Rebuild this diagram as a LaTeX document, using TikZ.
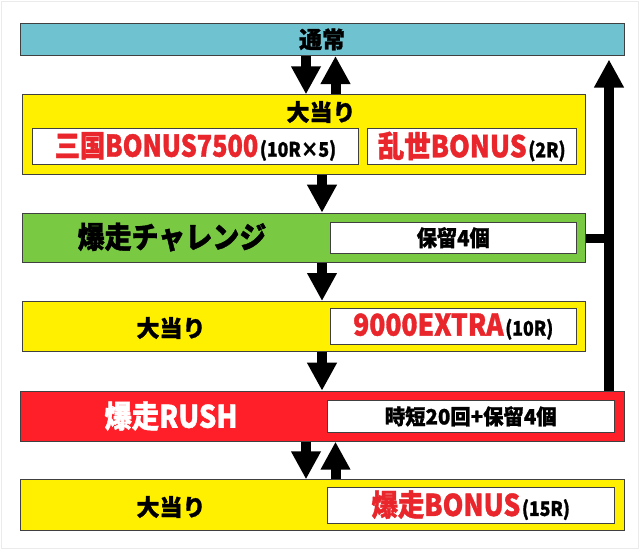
\documentclass[tikz,border=0pt]{standalone}
\usepackage{fontspec}
\setmainfont{Noto Sans CJK JP}[BoldFeatures={FakeBold=1.3}]
\usetikzlibrary{arrows.meta}
\definecolor{cyanbox}{HTML}{6FC3D0}
\definecolor{yel}{HTML}{FFF000}
\definecolor{grn}{HTML}{7AC943}
\definecolor{redbox}{HTML}{FF1F28}
\definecolor{redtxt}{HTML}{E8262B}
\definecolor{edge}{HTML}{404040}
\definecolor{frame}{HTML}{EBEBEB}
\newcommand\fs[1]{\fontsize{#1}{#1}\selectfont}
\newcommand\cnd[2][0.88]{\scalebox{#1}[1]{#2}}
\tikzset{
  panel/.style={draw=edge, line width=1pt, inner sep=0pt, anchor=north west, font=\bfseries},
  whitebox/.style={panel, fill=white},
  lbl/.style={inner sep=0pt, font=\bfseries},
  flow/.style={line width=10pt, -{Triangle[width=28pt,length=28pt]}},
}
\begin{document}
\begin{tikzpicture}[x=1pt,y=-1pt]
\useasboundingbox (0,0) rectangle (640,550);
\draw[frame, line width=1pt] (1.5,1.5) rectangle (638.5,548.5);
% boxes
\node[panel, fill=cyanbox, minimum width=604pt, minimum height=32.3pt] (tsujo) at (19.6,22.7)
  {\cnd[1]{\fs{23}通常}};
\node[panel, fill=yel, minimum width=563.4pt, minimum height=79.7pt] (oa1) at (21.6,94.3) {};
\node[whitebox, minimum width=326pt, minimum height=36pt] (b1) at (32,128)
  {\cnd[0.84]{\color{redtxt}\fs{30}三国BONUS7500}\,\cnd{\fs{20}(10R×5)}};
\node[whitebox, minimum width=208.5pt, minimum height=36pt] (b2) at (367,128)
  {\cnd{\color{redtxt}\fs{30}乱世BONUS}\,\cnd{\fs{20}(2R)}};
\node[panel, fill=grn, minimum width=563.4pt, minimum height=49.6pt] (chal) at (21.6,212.7) {};
\node[whitebox, minimum width=245.5pt, minimum height=31pt] (hb) at (330,221.7)
  {\cnd[0.92]{\fs{22}保留4個}};
\node[panel, fill=yel, minimum width=563.4pt, minimum height=50pt] (oa2) at (21.6,301) {};
\node[whitebox, minimum width=245.5pt, minimum height=36pt] (eb) at (330,308)
  {\cnd{\color{redtxt}\fs{30}9000EXTRA}\,\cnd{\fs{20}(10R)}};
\node[panel, fill=redbox, minimum width=604pt, minimum height=50pt] (rush) at (19.6,390.7) {};
\node[whitebox, minimum width=287.5pt, minimum height=31.7pt] (rb) at (326.5,400)
  {\cnd[0.97]{\fs{21}時短20回+保留4個}};
\node[panel, fill=yel, minimum width=604pt, minimum height=50.7pt] (oa3) at (19.6,479.3) {};
\node[whitebox, minimum width=287.5pt, minimum height=36pt] (bb) at (326.5,486.7)
  {\cnd{\color{redtxt}\fs{30}爆走BONUS}\,\cnd{\fs{20}(15R)}};
% labels
\node[lbl] (oa1t) at (321,112) {\cnd[1]{\fs{23}大当り}};
\node[lbl] (chalt) at (172,237) {\cnd[0.9]{\fs{30}爆走チャレンジ}};
\node[lbl] (oa2t) at (171,328) {\cnd[1]{\fs{23}大当り}};
\node[lbl, text=white] (rusht) at (171,416) {\cnd{\fs{31}爆走RUSH}};
\node[lbl] (oa3t) at (171,507) {\cnd[1]{\fs{23}大当り}};
% arrow columns
\coordinate (cl) at (306,0);
\coordinate (cr) at (335.5,0);
\coordinate (cm) at (322,0);
\coordinate (rtop) at (609,59.5);
\draw[flow] (tsujo.south -| cl) -- (oa1.north -| cl);
\draw[flow] (oa1.north -| cr) -- (tsujo.south -| cr);
\draw[flow] (oa1.south -| cm) -- (chal.north -| cm);
\draw[flow] (chal.south -| cm) -- (oa2.north -| cm);
\draw[flow] (oa2.south -| cm) -- (rush.north -| cm);
\draw[flow] (rush.south -| cl) -- (oa3.north -| cl);
\draw[flow] (oa3.north -| cr) -- (rush.south -| cr);
\draw[flow] (rush.north -| rtop) -- (rtop);
\draw[line width=9pt] (chal.east) -- (chal.east -| rtop);
\end{tikzpicture}
\end{document}
